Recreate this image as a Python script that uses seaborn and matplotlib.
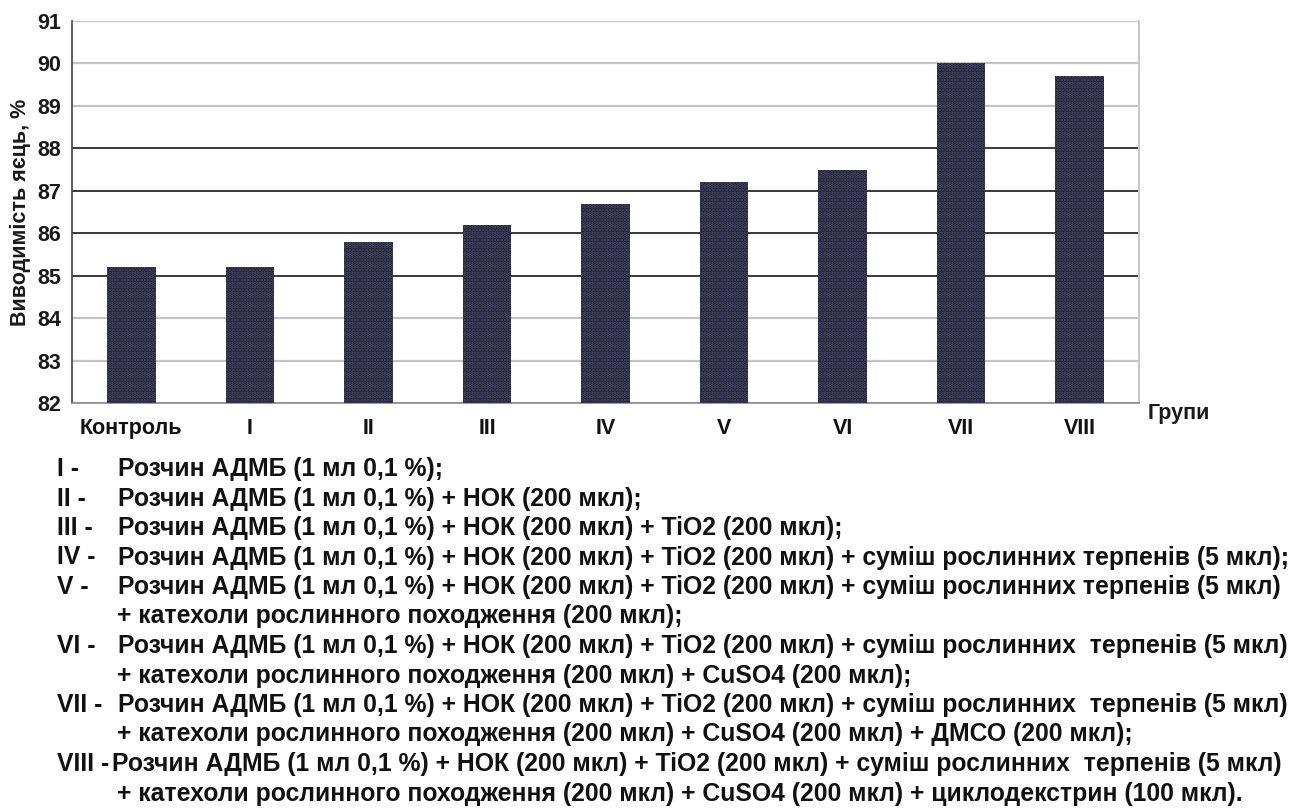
import matplotlib
matplotlib.use("Agg")
import matplotlib.pyplot as plt
import seaborn as sns
import pandas as pd

# Hatchability of eggs by treatment group
groups = ["Контроль", "I", "II", "III", "IV", "V", "VI", "VII", "VIII"]
hatchability = [85.2, 85.2, 85.8, 86.2, 86.7, 87.2, 87.5, 90.0, 89.7]
y_ticks = [82, 83, 84, 85, 86, 87, 88, 89, 90, 91]

# Group descriptions printed under the chart
note_prefixes = ["I -", "II -", "III -", "IV -", "V -", "", "VI -", "", "VII -", "", "VIII -", ""]
note_texts = [
    "Розчин АДМБ (1 мл 0,1 %);",
    "Розчин АДМБ (1 мл 0,1 %) + НОК (200 мкл);",
    "Розчин АДМБ (1 мл 0,1 %) + НОК (200 мкл) + TiO2 (200 мкл);",
    "Розчин АДМБ (1 мл 0,1 %) + НОК (200 мкл) + TiO2 (200 мкл) + суміш рослинних терпенів (5 мкл);",
    "Розчин АДМБ (1 мл 0,1 %) + НОК (200 мкл) + TiO2 (200 мкл) + суміш рослинних терпенів (5 мкл)",
    "+ катехоли рослинного походження (200 мкл);",
    "Розчин АДМБ (1 мл 0,1 %) + НОК (200 мкл) + TiO2 (200 мкл) + суміш рослинних  терпенів (5 мкл)",
    "+ катехоли рослинного походження (200 мкл) + CuSO4 (200 мкл);",
    "Розчин АДМБ (1 мл 0,1 %) + НОК (200 мкл) + TiO2 (200 мкл) + суміш рослинних  терпенів (5 мкл)",
    "+ катехоли рослинного походження (200 мкл) + CuSO4 (200 мкл) + ДМСО (200 мкл);",
    "Розчин АДМБ (1 мл 0,1 %) + НОК (200 мкл) + TiO2 (200 мкл) + суміш рослинних  терпенів (5 мкл)",
    "+ катехоли рослинного походження (200 мкл) + CuSO4 (200 мкл) + циклодекстрин (100 мкл).",
]

sns.set_theme(style="white")
plt.rcParams["font.family"] = ["Liberation Sans", "DejaVu Sans"]
plt.rcParams["hatch.linewidth"] = 1.8

df = pd.DataFrame({"group": groups, "value": hatchability})

W, H = 1293, 810
fig = plt.figure(figsize=(W / 100, H / 100), dpi=100)
ax = fig.add_axes([72 / W, 1 - 403 / H, (1139 - 72) / W, (403 - 21) / H])

sns.barplot(data=df, x="group", y="value", ax=ax, width=0.41,
            color="#16151f", saturation=1, zorder=3)
for p in ax.patches:
    p.set_facecolor("#16151f")
    p.set_edgecolor("#4f4e76")
    p.set_hatch(".....")
    p.set_linewidth(0)

ax.set_ylim(82, 91)
ax.set_xlim(-0.5, len(groups) - 0.5)
ax.set_yticks(y_ticks)
ax.set_yticklabels([str(t) for t in y_ticks], fontsize=15.5, fontweight="bold", color="#1a1a1a")
ax.set_xticks(range(len(groups)))
ax.set_xticklabels(groups, fontsize=15.5, fontweight="bold", color="#111111")
ax.set_xticks([i - 0.5 for i in range(len(groups) + 1)], minor=True)

ax.tick_params(axis="x", which="major", length=0, pad=11)
ax.tick_params(axis="x", which="minor", length=5, width=1, color="#8a8a8a", direction="out")
ax.tick_params(axis="y", which="major", length=5, width=1, color="#555555", direction="out", pad=3)

ax.yaxis.grid(True, zorder=0)
for tick, val in zip(ax.yaxis.get_major_ticks(), y_ticks):
    dark = 85 <= val <= 88
    tick.gridline.set_color("#2a2a2a" if dark else "#c4c4c4")
    tick.gridline.set_linewidth(1.3 if dark else 1.6)
ax.set_axisbelow(True)

ax.spines["top"].set_visible(False)
ax.spines["left"].set_color("#444444")
ax.spines["left"].set_linewidth(1.2)
ax.spines["bottom"].set_color("#8a8a8a")
ax.spines["bottom"].set_linewidth(1.2)
ax.spines["right"].set_color("#c8c8c8")
ax.spines["right"].set_linewidth(1.4)

ax.set_xlabel("")
ax.set_ylabel("Виводимість яєць, %", fontsize=15.5, fontweight="bold", color="#1a1a1a", labelpad=4)
fig.text(1148 / W, 1 - 413 / H, "Групи", fontsize=15.5, fontweight="bold",
         color="#1a1a1a", ha="left", va="center")

# Notes block, every line sharing a common baseline grid
base0, dy = 476, 29.5
note_size = 17.8
body_x = {"VIII -": 112}
for i, (pre, txt) in enumerate(zip(note_prefixes, note_texts)):
    y = 1 - (base0 + i * dy) / H
    if pre:
        fig.text(57 / W, y, pre, fontsize=note_size, fontweight="bold", color="#111111",
                 ha="left", va="baseline")
        fig.text(body_x.get(pre, 118) / W, y, txt, fontsize=note_size, fontweight="bold",
                 color="#111111", ha="left", va="baseline")
    else:
        fig.text(117 / W, y, txt, fontsize=note_size, fontweight="bold",
                 color="#111111", ha="left", va="baseline")

fig.savefig("out.png", dpi=100, facecolor="white")
